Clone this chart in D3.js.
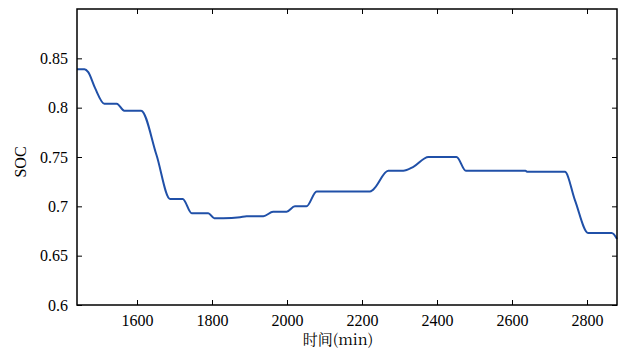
<!DOCTYPE html>
<html>
<head>
<meta charset="utf-8">
<script src="https://cdn.jsdelivr.net/npm/d3@7"></script>
</head>
<body style="margin:0">
<div id="chart"></div>
<script>
// SOC curve (time in minutes)
var times = [1440, 1460, 1470, 1488, 1513, 1546, 1566, 1611, 1652, 1688,
             1722, 1746, 1790, 1806, 1830, 1875, 1892, 1937, 1963, 1999,
             2021, 2052, 2079, 2221, 2230, 2270, 2310, 2337, 2377, 2452,
             2477, 2636, 2640, 2741, 2768, 2803, 2866, 2880]
var soc = [0.839, 0.839, 0.836, 0.820, 0.804, 0.804, 0.797, 0.797, 0.752, 0.7075,
           0.7075, 0.693, 0.693, 0.688, 0.688, 0.689, 0.690, 0.690, 0.6945, 0.6945,
           0.700, 0.700, 0.715, 0.715, 0.717, 0.736, 0.736, 0.740, 0.750, 0.750,
           0.736, 0.736, 0.735, 0.735, 0.706, 0.673, 0.673, 0.667]
var xTicks = [1600, 1800, 2000, 2200, 2400, 2600, 2800]
var yTicks = [0.6, 0.65, 0.7, 0.75, 0.8, 0.85]

var width = 622, height = 348
var margin = { left: 77, top: 9, right: 5, bottom: 43 }
var w = width - margin.left - margin.right
var h = height - margin.top - margin.bottom

var svg = d3.select("#chart")
    .append("svg")
    .attr("width", width)
    .attr("height", height)
    .attr("font-family", "Liberation Serif")

var g = svg.append("g")
    .attr("transform", "translate(" + margin.left + "," + margin.top + ")")

var xScale = d3.scaleLinear().domain([1440, 2880]).range([0, w])
var yScale = d3.scaleLinear().domain([0.6, 0.9]).range([h, 0])

var data = times.map(function(t, i) { return { t: t, v: soc[i] } })

var line = d3.line()
    .x(function(d) { return xScale(d.t) })
    .y(function(d) { return yScale(d.v) })
    .curve(d3.curveMonotoneX)

g.append("path")
    .datum(data)
    .attr("d", line)
    .attr("fill", "none")
    .attr("stroke", "#2050a8")
    .attr("stroke-width", 2)

function styleAxis(sel) {
    sel.attr("font-family", "Liberation Serif").attr("font-size", 16)
    sel.select(".domain").remove()
    sel.selectAll("line").attr("stroke", "#000").attr("stroke-width", 1)
    sel.selectAll("text").attr("fill", "#000")
        .attr("font-family", "Liberation Serif").attr("font-size", 16)
}

// bottom and left axes, ticks pointing inward
g.append("g")
    .attr("transform", "translate(0," + h + ")")
    .call(d3.axisBottom(xScale).tickValues(xTicks).tickSizeInner(-5).tickPadding(10)
        .tickFormat(d3.format("d")))
    .call(styleAxis)

g.append("g")
    .call(d3.axisLeft(yScale).tickValues(yTicks).tickSizeInner(-5).tickPadding(9)
        .tickFormat(function(d) { return String(+d.toFixed(2)) }))
    .call(styleAxis)

// mirrored top and right ticks
g.append("g")
    .call(d3.axisTop(xScale).tickValues(xTicks).tickSizeInner(-5).tickFormat(""))
    .call(styleAxis)

g.append("g")
    .attr("transform", "translate(" + w + ",0)")
    .call(d3.axisRight(yScale).tickValues(yTicks).tickSizeInner(-5).tickFormat(""))
    .call(styleAxis)

g.append("rect")
    .attr("width", w)
    .attr("height", h)
    .attr("fill", "none")
    .attr("stroke", "#000")
    .attr("stroke-width", 1.5)

g.append("text")
    .attr("x", w / 2 - 9)
    .attr("y", h + 40)
    .attr("text-anchor", "middle")
    .attr("font-size", 15)
    .attr("font-family", "Noto Serif CJK SC")
    .text("时间(min)")

g.append("text")
    .attr("transform", "translate(" + (-51) + "," + (h / 2 + 5) + ") rotate(-90)")
    .attr("text-anchor", "middle")
    .attr("font-family", "Liberation Serif")
    .attr("font-size", 16)
    .text("SOC")
</script>
</body>
</html>
